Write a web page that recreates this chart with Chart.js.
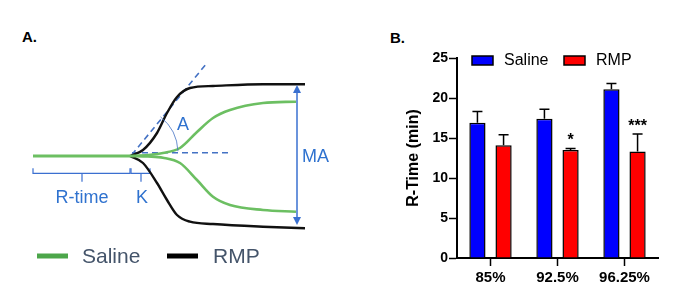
<!DOCTYPE html>
<html lang="en">
<head>
<meta charset="UTF-8">
<script src="https://cdn.jsdelivr.net/npm/chart.js"></script>
<title>TEG R-Time</title>
<style>
  body { margin: 0; background: #fff; width: 685px; height: 284px; overflow: hidden; position: relative; font-family: "Liberation Sans", Arial, sans-serif; }
  #canvasA { position: absolute; left: 0; top: 0; }
  #canvasB { position: absolute; left: 390px; top: 0; }
  .panel-label { position: absolute; font-weight: bold; font-size: 15px; line-height: 15px; color: #000; }
</style>
</head>
<body>
<div class="panel-label" style="left:22px; top:29px;">A.</div>
<div class="panel-label" style="left:390px; top:30px;">B.</div>
<canvas id="canvasA" width="340" height="284"></canvas>
<canvas id="canvasB" width="295" height="284"></canvas>
<script>
// panel A: schematic TEG trace (time, amplitude)
var baselineTime = [0, 97];
var baselineAmp = [0, 0];
var salineTime = [97, 115, 130, 147, 164, 180, 197, 230, 263];
var salineUpAmp = [0, 1, 3, 8, 24, 38, 46, 53, 54.3];
var salineLowAmp = [0, -0.5, -1.7, -7, -24, -40.7, -49, -54, -55.7];
var rmpTime = [97, 110, 124, 134, 144, 157, 180, 230, 272];
var rmpUpAmp = [0, 6, 23, 43, 59, 68, 70, 71.7, 71.7];
var rmpLowAmp = [0, -7, -27, -44, -59, -65.7, -68, -70.7, -72.3];

var angleLineTime = [98.7, 173.7];
var angleLineAmp = [1, 92.7];
var flatRefTime = [99, 197];
var flatRefAmp = [3.3, 3.3];
var rBracketTime = [0, 0, 49, 49, 49, 97, 97];
var kBracketTime = [98, 98, 108, 108, 108, 117, 117];
var bracketAmp = [-12.3, -17.3, -17.3, -25.7, -17.3, -17.3, -12.3];
var maTime = 264;
var maTop = 71;
var maBottom = -69;

// panel B: R-Time bars
var categories = ['85%', '92.5%', '96.25%'];
var salineMean = [16.9, 17.4, 21.1];
var salineErr = [1.4, 1.2, 0.7];
var rmpMean = [14.1, 13.5, 13.3];
var rmpErr = [1.3, 0.2, 2.2];
var rmpStars = ['', '*', '***'];

var blueText = '#2f72cf';
var lineBlue = '#4472c4';
var green = '#6cbf62';

function pts(xs, ys) {
    var out = [];
    for (var i = 0; i < xs.length; i++) out.push({ x: xs[i], y: ys[i] });
    return out;
}

function lineSet(data, color, width, dash, smooth) {
    return {
        data: data,
        borderColor: color,
        borderWidth: width,
        borderDash: dash || [],
        pointRadius: 0,
        fill: false,
        showLine: true,
        cubicInterpolationMode: smooth ? 'monotone' : 'default',
        tension: 0
    };
}

var tegPlugin = {
    id: 'tegPlugin',
    afterDatasetsDraw: function (chart) {
        var ctx = chart.ctx;
        var xs = chart.scales.x, ys = chart.scales.y;
        ctx.save();
        // angle arc
        ctx.strokeStyle = lineBlue;
        ctx.lineWidth = 0.8;
        ctx.beginPath();
        ctx.arc(xs.getPixelForValue(99), ys.getPixelForValue(3), 46, -0.9, -0.04);
        ctx.stroke();
        // MA double arrow
        var mx = xs.getPixelForValue(maTime);
        var y1 = ys.getPixelForValue(maTop), y2 = ys.getPixelForValue(maBottom);
        ctx.strokeStyle = '#3a70d0';
        ctx.fillStyle = '#3a70d0';
        ctx.lineWidth = 1.5;
        ctx.beginPath();
        ctx.moveTo(mx, y1 + 4);
        ctx.lineTo(mx, y2 - 4);
        ctx.stroke();
        ctx.beginPath();
        ctx.moveTo(mx, y1); ctx.lineTo(mx - 4, y1 + 8); ctx.lineTo(mx + 4, y1 + 8); ctx.closePath();
        ctx.moveTo(mx, y2); ctx.lineTo(mx - 4, y2 - 8); ctx.lineTo(mx + 4, y2 - 8); ctx.closePath();
        ctx.fill();
        // labels
        ctx.fillStyle = blueText;
        ctx.font = '18px "Liberation Sans", Arial, sans-serif';
        ctx.textBaseline = 'middle';
        ctx.textAlign = 'left';
        ctx.fillText('MA', mx + 5, ys.getPixelForValue(-1));
        ctx.textAlign = 'center';
        ctx.fillText('A', xs.getPixelForValue(150), ys.getPixelForValue(31));
        ctx.fillText('R-time', xs.getPixelForValue(49), ys.getPixelForValue(-42));
        ctx.fillText('K', xs.getPixelForValue(109), ys.getPixelForValue(-42));
        // legend
        ctx.lineWidth = 5;
        ctx.strokeStyle = '#4ca64a';
        ctx.beginPath(); ctx.moveTo(37, 256); ctx.lineTo(68, 256); ctx.stroke();
        ctx.strokeStyle = '#000';
        ctx.beginPath(); ctx.moveTo(167, 256); ctx.lineTo(198, 256); ctx.stroke();
        ctx.fillStyle = '#44546a';
        ctx.font = '21px "Liberation Sans", Arial, sans-serif';
        ctx.textAlign = 'left';
        ctx.fillText('Saline', 82, 257);
        ctx.fillText('RMP', 213, 257);
        ctx.restore();
    }
};

new Chart(document.getElementById('canvasA'), {
    type: 'scatter',
    data: {
        datasets: [
            lineSet(pts(baselineTime, baselineAmp), green, 3.2),
            lineSet(pts(salineTime, salineUpAmp), green, 2.6, null, true),
            lineSet(pts(salineTime, salineLowAmp), green, 2.6, null, true),
            lineSet(pts(rmpTime, rmpUpAmp), '#111', 2.4, null, true),
            lineSet(pts(rmpTime, rmpLowAmp), '#111', 2.4, null, true),
            lineSet(pts(angleLineTime, angleLineAmp), lineBlue, 1.6, [6, 4]),
            lineSet(pts(flatRefTime, flatRefAmp), lineBlue, 1.6, [6, 4]),
            lineSet(pts(rBracketTime, bracketAmp), '#3b6fd0', 1.2),
            lineSet(pts(kBracketTime, bracketAmp), '#3b6fd0', 1.2)
        ]
    },
    options: {
        responsive: false,
        animation: false,
        layout: { padding: 0 },
        plugins: { legend: { display: false }, tooltip: { enabled: false } },
        scales: {
            x: { type: 'linear', display: false, min: -33, max: 307 },
            y: { type: 'linear', display: false, min: -128, max: 156 }
        }
    },
    plugins: [tegPlugin]
});

var errorPlugin = {
    id: 'errorPlugin',
    afterDatasetsDraw: function (chart) {
        var ctx = chart.ctx;
        var ys = chart.scales.y;
        var errs = [salineErr, rmpErr];
        ctx.save();
        ctx.strokeStyle = '#000';
        ctx.lineWidth = 1.5;
        for (var d = 0; d < 2; d++) {
            var meta = chart.getDatasetMeta(d);
            var vals = chart.data.datasets[d].data;
            for (var i = 0; i < meta.data.length; i++) {
                var bar = meta.data[i];
                var top = ys.getPixelForValue(vals[i] + errs[d][i]);
                ctx.beginPath();
                ctx.moveTo(bar.x, bar.y);
                ctx.lineTo(bar.x, top);
                ctx.moveTo(bar.x - 5, top);
                ctx.lineTo(bar.x + 5, top);
                ctx.stroke();
                if (d === 1 && rmpStars[i]) {
                    ctx.fillStyle = '#000';
                    ctx.font = 'bold 16px "Liberation Sans", Arial, sans-serif';
                    ctx.textAlign = 'center';
                    ctx.textBaseline = 'alphabetic';
                    ctx.fillText(rmpStars[i], bar.x, top - 3);
                }
            }
        }
        // legend
        var items = [['Saline', '#0000ff', 82], ['RMP', '#ff0000', 174]];
        ctx.font = '16px "Liberation Sans", Arial, sans-serif';
        ctx.textAlign = 'left';
        ctx.textBaseline = 'middle';
        for (var k = 0; k < items.length; k++) {
            ctx.fillStyle = items[k][1];
            ctx.fillRect(items[k][2], 56, 21, 9);
            ctx.strokeRect(items[k][2], 56, 21, 9);
            ctx.fillStyle = '#000';
            ctx.fillText(items[k][0], items[k][2] + 32, 61);
        }
        ctx.restore();
    }
};

new Chart(document.getElementById('canvasB'), {
    type: 'bar',
    data: {
        labels: categories,
        datasets: [
            { label: 'Saline', data: salineMean, backgroundColor: '#0000ff', borderColor: '#000', borderWidth: 1.5, categoryPercentage: 0.78, barPercentage: 0.62 },
            { label: 'RMP', data: rmpMean, backgroundColor: '#ff0000', borderColor: '#000', borderWidth: 1.5, categoryPercentage: 0.78, barPercentage: 0.62 }
        ]
    },
    options: {
        responsive: false,
        animation: false,
        layout: { padding: { top: 58, right: 27, bottom: 0, left: 0 } },
        plugins: { legend: { display: false }, tooltip: { enabled: false } },
        scales: {
            x: {
                grid: { offset: false, drawOnChartArea: false, drawTicks: true, tickLength: 8, tickColor: '#000', tickWidth: 1.5 },
                border: { display: true, color: '#000', width: 2 },
                ticks: { color: '#000', font: { weight: 'bold', size: 15 }, padding: 3, maxRotation: 0 },
                afterFit: function (s) { s.height = 26; }
            },
            y: {
                min: 0,
                max: 25,
                ticks: { stepSize: 5, color: '#000', font: { weight: 'bold', size: 14 }, padding: 1 },
                grid: { drawOnChartArea: false, drawTicks: true, tickLength: 8, tickColor: '#000', tickWidth: 1.5 },
                border: { display: true, color: '#000', width: 2 },
                title: { display: true, text: 'R-Time (min)', color: '#000', font: { weight: 'bold', size: 16 }, padding: { top: 14, bottom: 0 } },
                afterFit: function (s) { s.width = 67; }
            }
        }
    },
    plugins: [errorPlugin]
});
</script>
</body>
</html>
